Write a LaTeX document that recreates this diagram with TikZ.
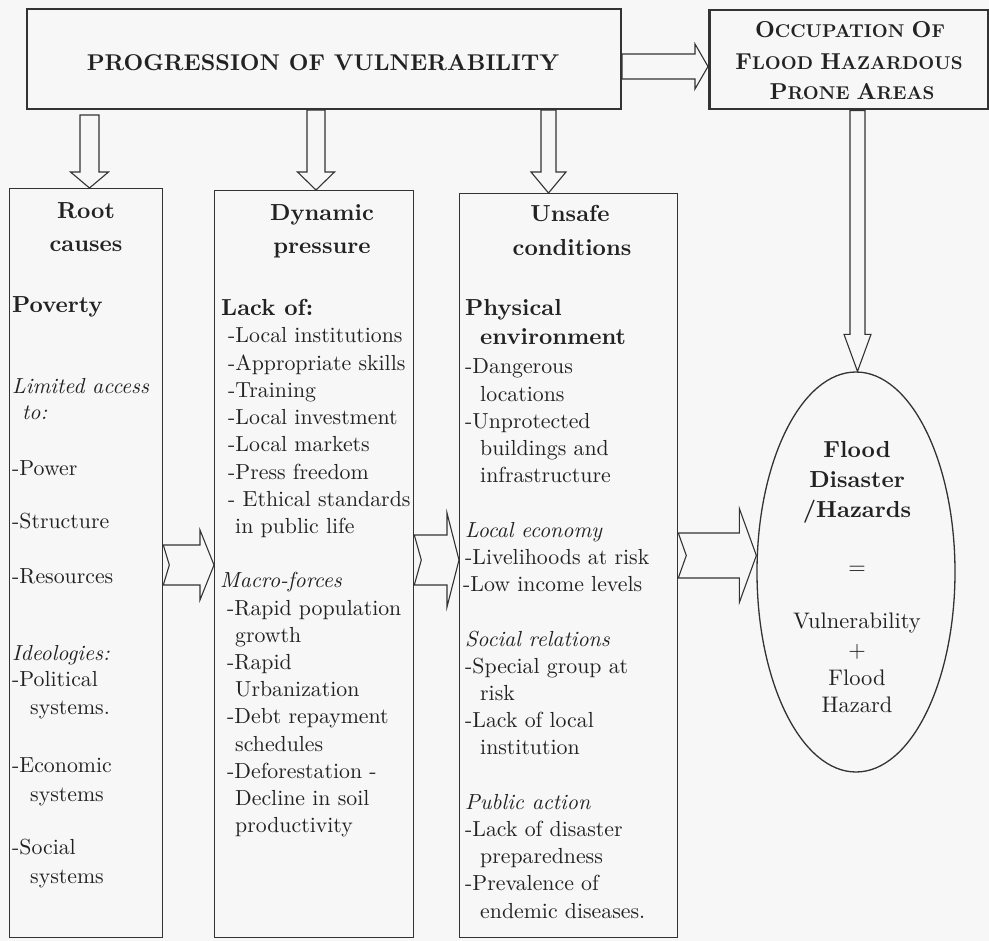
\documentclass[tikz,border=0pt]{standalone}
\usepackage{fontspec}
\setmainfont{lmroman10}[Extension=.otf, UprightFont=*-regular, BoldFont=*-bold, ItalicFont=*-italic, BoldItalicFont=*-bolditalic]
\usetikzlibrary{calc,shapes.geometric}
\definecolor{ink}{HTML}{333333}
\definecolor{txtink}{HTML}{222222}
\definecolor{paper}{HTML}{F7F7F7}
\tikzset{
  bodytxt/.style={font=\fontsize{21.8}{26}\selectfont, text=txtink, inner sep=0pt, anchor=base west},
  ctrtxt/.style={font=\fontsize{22.5}{27}\selectfont, text=txtink, inner sep=0pt, anchor=base},
  headtxt/.style={font=\fontsize{23.2}{28}\selectfont\bfseries, text=txtink, inner sep=0pt, anchor=base},
  colbox/.style={draw=ink, line width=1.3pt, anchor=north west, inner sep=0pt},
  blockarrow/.style={draw=ink, line width=1.1pt, line join=miter},
}
% horizontal hollow arrow: tail, tip, shaft half, head half, head length, notch depth
\newcommand{\HArrow}[6]{%
  \draw[blockarrow] let \p1=(#1), \p2=(#2) in
   (\x1,\y2+#3pt) -- (\x2-#5pt,\y2+#3pt) -- (\x2-#5pt,\y2+#4pt) -- (\x2,\y2)
   -- (\x2-#5pt,\y2-#4pt) -- (\x2-#5pt,\y2-#3pt) -- (\x1,\y2-#3pt) -- (\x1+#6pt,\y2) -- cycle;}
% vertical hollow arrow (downwards): top, tip, shaft half, head half, head length
\newcommand{\VArrow}[5]{%
  \draw[blockarrow] let \p1=(#1), \p2=(#2) in
   (\x2-#3pt,\y1) -- (\x2-#3pt,\y2+#5pt) -- (\x2-#4pt,\y2+#5pt) -- (\x2,\y2)
   -- (\x2+#4pt,\y2+#5pt) -- (\x2+#3pt,\y2+#5pt) -- (\x2+#3pt,\y1) -- cycle;}
\newcommand{\capbig}[1]{{\fontsize{23}{28}\selectfont #1}}
\begin{document}
\begin{tikzpicture}[x=1pt,y=-1pt]
\fill[paper] (0,0) rectangle (989,941);
\useasboundingbox (0,0) rectangle (989,941);

% boxes
\node[draw=ink, line width=2pt, minimum width=594pt, minimum height=100pt, anchor=north west, inner sep=0pt] (main) at (26,8) {};
\node[draw=ink, line width=2.5pt, minimum width=279pt, minimum height=99pt, anchor=north west, inner sep=0pt] (occ) at (708,9) {};
\node[colbox, minimum width=153pt, minimum height=749pt] (root) at (9,188) {};
\node[colbox, minimum width=199pt, minimum height=747pt] (dyn) at (214,190) {};
\node[colbox, minimum width=218pt, minimum height=744pt] (uns) at (459,193) {};
\node[draw=ink, line width=1.3pt, ellipse, minimum width=198pt, minimum height=400pt, inner sep=0pt] (flood) at (856,572) {};

% title texts
\node[headtxt, font=\fontsize{22.8}{28}\selectfont\bfseries] (title) at (323,71) {PROGRESSION OF VULNERABILITY};
\node[headtxt, font=\fontsize{18.5}{22}\selectfont\bfseries] (occ1) at (850,37.5) {\capbig{O}CCUPATION \capbig{O}F};
\node[headtxt, font=\fontsize{18.5}{22}\selectfont\bfseries] (occ2) at (849,70) {\capbig{F}LOOD \capbig{H}AZARDOUS};
\node[headtxt, font=\fontsize{18.5}{22}\selectfont\bfseries] (occ3) at (852,100) {\capbig{P}RONE \capbig{A}REAS};

% arrows
\HArrow{main.east |- 0,66.5}{occ.west |- 0,66.5}{12.5}{22.5}{13}{0}
\VArrow{89.5,115}{89.5,0 |- root.north}{9.5}{19}{16}
\VArrow{316,0 |- main.south}{316,0 |- dyn.north}{9}{18.5}{18}
\VArrow{548.5,0 |- main.south}{548.5,0 |- uns.north}{7.5}{17.5}{21}
\VArrow{857.5,0 |- occ.south}{857.5,0 |- flood.north}{7.5}{13.5}{37}
\HArrow{root.east |- 0,565}{dyn.west |- 0,565}{20}{35}{14}{6}
\HArrow{dyn.east |- 0,560}{uns.west |- 0,560}{25}{47}{12}{7}
\HArrow{uns.east |- 0,555.5}{flood.west |- 0,555.5}{22.5}{47}{17}{8}

% column headings
\node[headtxt] (rh1) at (86,219) {Root};
\node[headtxt] (rh2) at (86,252) {causes};
\node[headtxt] (dh1) at (322,221) {Dynamic};
\node[headtxt] (dh2) at (322,254) {pressure};
\node[headtxt] (uh1) at (570,222) {Unsafe};
\node[headtxt] (uh2) at (572,256) {conditions};

% column 1
\node[headtxt, anchor=base west] (c1pov) at (12,313) {Poverty};
\foreach \xx/\yy/\txt [count=\i] in {
  12/394/\textit{Limited access}, 22/420/\textit{to:},
  12/476/-Power, 12/529/-Structure, 12/583/-Resources,
  12/660/\textit{Ideologies:}, 12/686/-Political, 30/714/systems.,
  12/772/-Economic, 30/801/systems, 12/854/-Social, 30/883/systems}
  \node[bodytxt] (c1-\i) at (\xx,\yy) {\txt};

% column 2
\node[headtxt, anchor=base west] (c2lack) at (221,316) {Lack of:};
\foreach \xx/\k/\txt [count=\i] in {
  228/1/-Local institutions, 228/2/-Appropriate skills, 228/3/-Training,
  228/4/-Local investment, 228/5/-Local markets, 228/6/-Press freedom,
  228/7/- Ethical standards, 235/8/in public life,
  220/10/\textit{Macro-forces}, 227/11/-Rapid population, 235/12/growth,
  227/13/-Rapid, 235/14/Urbanization, 227/15/-Debt repayment,
  235/16/schedules, 227/17/-Deforestation -, 235/18/Decline in soil,
  235/19/productivity}
  \node[bodytxt] (c2-\i) at (\xx,315.8+27.2*\k) {\txt};

% column 3
\node[headtxt, anchor=base west] (c3phys) at (465,316) {Physical};
\node[headtxt, anchor=base west] (c3env) at (480,345) {environment};
\foreach \xx/\k/\txt [count=\i] in {
  465/2/-Dangerous, 480/3/locations, 465/4/-Unprotected, 480/5/buildings and,
  480/6/infrastructure, 465/8/\textit{Local economy}, 465/9/-Livelihoods at risk,
  463/10/-Low income levels, 465/12/\textit{Social relations},
  465/13/-Special group at, 480/14/risk, 465/15/-Lack of local,
  480/16/institution, 465/18/\textit{Public action}, 465/19/-Lack of disaster,
  480/20/preparedness, 465/21/-Prevalence of, 480/22/endemic diseases.}
  \node[bodytxt] (c3-\i) at (\xx,319.6+27.2*\k) {\txt};

% ellipse text
\node[headtxt] (f1) at (857,457) {Flood};
\node[headtxt] (f2) at (857,488) {Disaster};
\node[headtxt] (f3) at (857,518) {/Hazards};
\node[ctrtxt] (f4) at (857,574) {=};
\node[ctrtxt] (f5) at (857,628) {Vulnerability};
\node[ctrtxt] (f6) at (857,657) {+};
\node[ctrtxt] (f7) at (857,685) {Flood};
\node[ctrtxt] (f8) at (857,712) {Hazard};
\end{tikzpicture}
\end{document}
